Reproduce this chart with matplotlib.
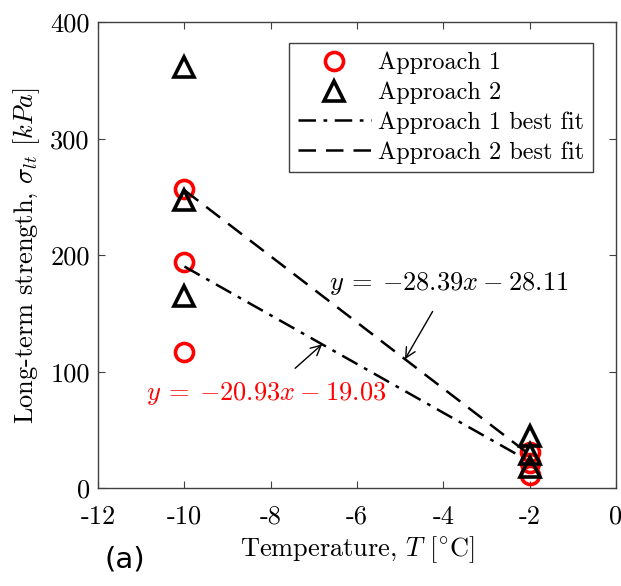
import matplotlib
matplotlib.use("Agg")
import matplotlib.pyplot as plt
import numpy as np

plt.rcParams['font.family'] = 'serif'
plt.rcParams['font.serif'] = ['cmr10']
plt.rcParams['mathtext.fontset'] = 'cm'
plt.rcParams['axes.formatter.use_mathtext'] = False
plt.rcParams['axes.unicode_minus'] = False

# measured long-term strength [kPa] at each test temperature
temp1 = [-10, -10, -10, -2, -2, -2]
sigma1 = [257, 194, 117, 31, 22, 11]
temp2 = [-10, -10, -10, -2, -2, -2]
sigma2 = [362, 247, 165, 45, 29, 18]

# linear fits y = a*x + b
fit1 = (-20.93, -19.03)
fit2 = (-28.39, -28.11)
fit_range = [-10, -2]

FS = 19

fig = plt.figure(figsize=(6.21, 5.86), dpi=100)
ax = fig.add_axes([0.158, 0.167, 0.834, 0.795])

ax.plot(temp1, sigma1, 'o', ms=13, mfc='none', mec='red', mew=2.6, label='Approach 1')
ax.plot(temp2, sigma2, '^', ms=15, mfc='none', mec='black', mew=2.6, label='Approach 2')

xf = np.array(fit_range)
ax.plot(xf, fit1[0]*xf + fit1[1], color='black', lw=1.8, dashes=[7, 3, 1.5, 3],
        label='Approach 1 best fit')
ax.plot(xf, fit2[0]*xf + fit2[1], color='black', lw=1.8, dashes=[7, 4],
        label='Approach 2 best fit')

ax.annotate(r'$y\:=\:-28.39x\:-\:28.11$', xy=(-4.89, fit2[0]*-4.89 + fit2[1]),
            xytext=(-3.87, 176), ha='center', va='center', fontsize=FS,
            arrowprops=dict(arrowstyle='->', color='black', lw=1, mutation_scale=18,
                            shrinkA=10, shrinkB=0))
ax.annotate(r'$y\:=\:-20.93x\:-\:19.03$', xy=(-6.81, fit1[0]*-6.81 + fit1[1]),
            xytext=(-8.1, 81), ha='center', va='center', fontsize=FS, color='red',
            arrowprops=dict(arrowstyle='->', color='black', lw=1, mutation_scale=18,
                            shrinkA=10, shrinkB=0))

ax.set_xlim(-12, 0)
ax.set_ylim(0, 400)
ax.set_xticks(np.arange(-12, 1, 2))
ax.set_yticks(np.arange(0, 401, 100))
ax.tick_params(direction='in', top=True, right=True, length=5, labelsize=FS,
               color='#404040', width=0.8)
ax.tick_params(axis='x', pad=12)
ax.tick_params(axis='y', pad=6)
for s in ax.spines.values():
    s.set_color('#404040')
    s.set_linewidth(1)

ax.set_xlabel(r'Temperature, $T$ $[^{\circ}\mathrm{C}]$', fontsize=FS, labelpad=4)
ax.set_ylabel(r'Long-term strength, $\sigma_{lt}$ $[kPa]$', fontsize=FS, labelpad=6)

leg = ax.legend(loc='upper right', bbox_to_anchor=(0.955, 0.955), fontsize=17.5,
                handlelength=3.0, handletextpad=0.3, borderpad=0.35, labelspacing=0.3,
                borderaxespad=0, fancybox=False, framealpha=1, edgecolor='#404040')
leg.get_frame().set_linewidth(1)

fig.text(0.168, 0.022, '(a)', fontsize=21, family='DejaVu Sans', ha='left', va='bottom')

fig.savefig('out.png', dpi=100)
